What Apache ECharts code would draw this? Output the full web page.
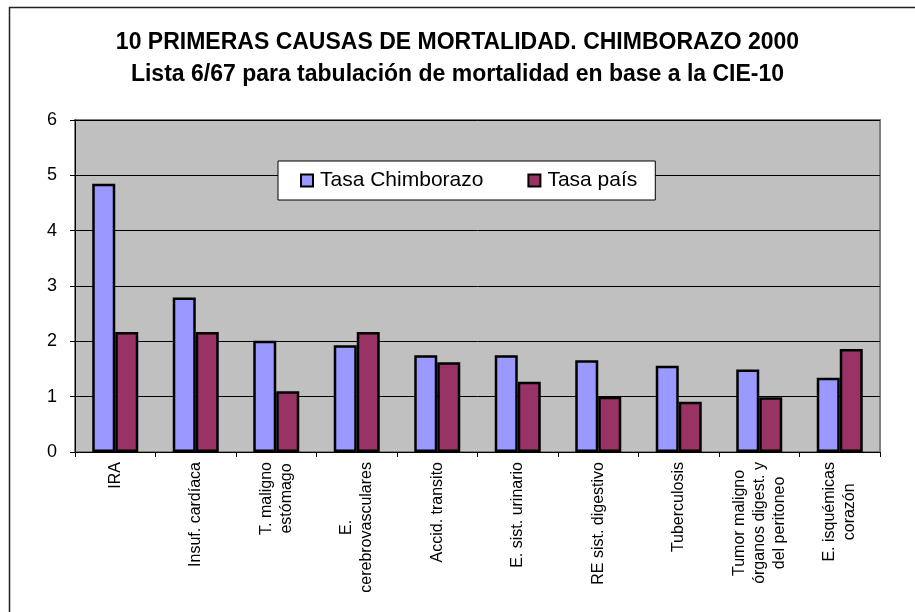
<!DOCTYPE html>
<html>
<head>
<meta charset="utf-8">
<script src="https://cdn.jsdelivr.net/npm/echarts@6/dist/echarts.min.js"></script>
<style>
    html, body { margin: 0; padding: 0; background: #fff; }
    #chart { width: 915px; height: 612px; }
</style>
</head>
<body>
<div id="chart"></div>
<script>
const causes = [
    "IRA",
    "Insuf. cardíaca",
    "T. maligno\nestómago",
    "E.\ncerebrovasculares",
    "Accid. transito",
    "E. sist. urinario",
    "RE sist. digestivo",
    "Tuberculosis",
    "Tumor maligno\nórganos digest. y\ndel peritoneo",
    "E. isquémicas\ncorazón",
];
const tasa_chimborazo = [4.85, 2.79, 2.01, 1.93, 1.75, 1.75, 1.66, 1.56, 1.49, 1.34];
const tasa_pais = [2.17, 2.17, 1.10, 2.17, 1.62, 1.27, 1.00, 0.91, 0.99, 1.86];
const y_ticks = [0, 1, 2, 3, 4, 5, 6];

const FONT = "Arial, 'Liberation Sans', sans-serif";

// rich text so each line of a rotated label is centred on the longest one
function centre_lines(value) {
    return value.split("\n").map((line) => "{c|" + line + "}").join("\n");
}

const chart = echarts.init(document.getElementById("chart"), null, { renderer: "canvas" });

chart.setOption({
    animation: false,
    backgroundColor: "#fff",
    title: {
        text: "10 PRIMERAS CAUSAS DE MORTALIDAD. CHIMBORAZO 2000\nLista 6/67 para tabulación de mortalidad en base a la CIE-10",
        left: "center",
        top: 22,
        textStyle: { fontFamily: FONT, fontSize: 23, fontWeight: "bold", color: "#000", lineHeight: 32 },
    },
    legend: {
        left: 278,
        top: 161,
        padding: [9, 18, 9, 22],
        itemGap: 44,
        itemWidth: 12,
        itemHeight: 12,
        backgroundColor: "#fff",
        borderColor: "#000",
        borderWidth: 1,
        borderRadius: 0,
        icon: "rect",
        itemStyle: { borderColor: "#000", borderWidth: 2 },
        textStyle: { fontFamily: FONT, fontSize: 21, color: "#000", padding: [0, 0, 0, 2] },
    },
    grid: {
        left: 75,
        right: 35,
        top: 120,
        bottom: 160,
        show: true,
        backgroundColor: "#c0c0c0",
        borderColor: "#808080",
        borderWidth: 2,
    },
    xAxis: {
        type: "category",
        data: causes,
        axisLine: { lineStyle: { color: "#000", width: 1 } },
        axisTick: { show: true, length: 5, lineStyle: { color: "#000" } },
        axisLabel: {
            rotate: 90,
            margin: 10,
            interval: 0,
            color: "#000",
            formatter: centre_lines,
            rich: {
                c: { align: "center", fontFamily: FONT, fontSize: 16, lineHeight: 20, color: "#000" },
            },
        },
    },
    yAxis: {
        type: "value",
        min: y_ticks[0],
        max: y_ticks[y_ticks.length - 1],
        interval: 1,
        axisLine: { show: true, lineStyle: { color: "#000", width: 1 } },
        axisTick: { show: true, length: 5, lineStyle: { color: "#000" } },
        axisLabel: { fontFamily: FONT, fontSize: 18, color: "#000", margin: 18 },
        splitLine: { show: true, lineStyle: { color: "#000", width: 1 } },
    },
    series: [
        {
            name: "Tasa Chimborazo",
            type: "bar",
            data: tasa_chimborazo,
            barWidth: 23,
            barGap: "0%",
            itemStyle: { color: "#9999ff", borderColor: "#000", borderWidth: 2.5 },
        },
        {
            name: "Tasa país",
            type: "bar",
            data: tasa_pais,
            barWidth: 23,
            barGap: "0%",
            itemStyle: { color: "#993366", borderColor: "#000", borderWidth: 2.5 },
        },
    ],
    graphic: [
        {
            type: "rect",
            silent: true,
            z: -1,
            shape: { x: 9.5, y: 7.5, width: 1000, height: 1000 },
            style: { fill: null, stroke: "#222", lineWidth: 1.5 },
        },
    ],
});
</script>
</body>
</html>
